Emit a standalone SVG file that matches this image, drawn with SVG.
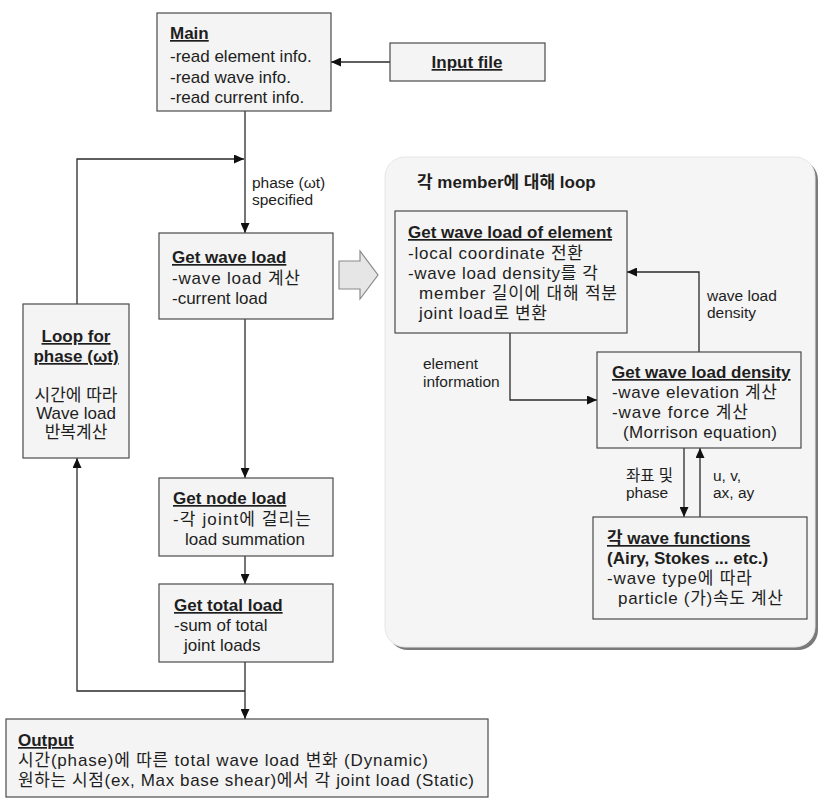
<svg xmlns="http://www.w3.org/2000/svg" width="826" height="801" viewBox="0 0 826 801">
<style>
.box{fill:#f4f4f4;stroke:#4a4a4a;stroke-width:1.2}
.t{font-family:"Liberation Sans","Noto Sans CJK KR",sans-serif;font-size:17px;fill:#1e1e1e}
.h{font-weight:bold;text-decoration:underline}
.hb{font-weight:bold}
.lbl{font-size:15.5px}
.c{fill:none;stroke:#2a2a2a;stroke-width:1.3}
.a{marker-end:url(#ah)}
</style>
<defs>
<marker id="ah" markerUnits="userSpaceOnUse" markerWidth="10" markerHeight="9" refX="10" refY="4.5" orient="auto">
<path d="M0,0 L10,4.5 L0,9 Z" fill="#111"/>
</marker>
</defs>
<rect width="826" height="801" fill="#ffffff"/>
<g id="panel">
<rect x="388" y="160" width="430" height="490" rx="20" ry="20" fill="#7a7a7a"/>
<rect x="385" y="157" width="430" height="490" rx="20" ry="20" fill="#f5f5f5" stroke="#e6e6e6" stroke-width="1"/>
<text class="t hb" x="417" y="188">각 member에 대해 loop</text>
</g>
<g id="connectors">
<path class="c a" d="M390,62 H331"/>
<path class="c a" d="M245,111 V233"/>
<path class="c a" d="M77,304 V159 H244"/>
<path class="c a" d="M245,319 V478"/>
<path class="c a" d="M245,556 V584"/>
<path class="c a" d="M245,662 V719"/>
<path class="c a" d="M245,691 H77 V458"/>
<path class="c a" d="M510,333 V400 H597"/>
<path class="c a" d="M699,352 V272 H627"/>
<path class="c a" d="M684,448 V517"/>
<path class="c a" d="M700,517 V448"/>
<text class="t lbl" x="252" y="188">phase (ωt)</text>
<text class="t lbl" x="252" y="205">specified</text>
<text class="t lbl" x="707" y="301">wave load</text>
<text class="t lbl" x="707" y="318">density</text>
<text class="t lbl" x="423" y="369">element</text>
<text class="t lbl" x="423" y="387">information</text>
<text class="t lbl" x="626" y="481">좌표 및</text>
<text class="t lbl" x="626" y="498">phase</text>
<text class="t lbl" x="713" y="481">u, v,</text>
<text class="t lbl" x="713" y="498">ax, ay</text>
</g>
<g id="hollow-arrow">
<path d="M339,261 H360 V251 L378,275 L360,299 V289 H339 Z" fill="#e6e6e6" stroke="#8a8a8a" stroke-width="1.2"/>
</g>
<g id="main">
<rect class="box" x="157" y="13" width="174" height="98"/>
<text class="t h" x="170" y="39">Main</text>
<text class="t" x="170" y="62">-read element info.</text>
<text class="t" x="170" y="83">-read wave info.</text>
<text class="t" x="170" y="103">-read current info.</text>
</g>
<g id="input">
<rect class="box" x="390" y="43" width="155" height="38"/>
<text class="t h" x="467" y="68" text-anchor="middle">Input file</text>
</g>
<g id="loop">
<rect class="box" x="23" y="304" width="106" height="154"/>
<text class="t h" x="76" y="342" text-anchor="middle">Loop for</text>
<text class="t h" x="76" y="362" text-anchor="middle">phase (ωt)</text>
<text class="t" x="76" y="401" text-anchor="middle">시간에 따라</text>
<text class="t" x="76" y="419" text-anchor="middle">Wave load</text>
<text class="t" x="76" y="438" text-anchor="middle">반복계산</text>
</g>
<g id="wave-load">
<rect class="box" x="159" y="233" width="174" height="86"/>
<text class="t h" x="172" y="263">Get wave load</text>
<text class="t" x="172" y="284" textLength="128" lengthAdjust="spacing">-wave load 계산</text>
<text class="t" x="172" y="304">-current load</text>
</g>
<g id="node-load">
<rect class="box" x="159" y="478" width="174" height="78"/>
<text class="t h" x="173" y="504">Get node load</text>
<text class="t" x="173" y="525" textLength="138" lengthAdjust="spacing">-각 joint에 걸리는</text>
<text class="t" x="185" y="545">load summation</text>
</g>
<g id="total-load">
<rect class="box" x="159" y="584" width="174" height="78"/>
<text class="t h" x="174" y="611">Get total load</text>
<text class="t" x="174" y="631">-sum of total</text>
<text class="t" x="184" y="651">joint loads</text>
</g>
<g id="output">
<rect class="box" x="6" y="719" width="482" height="78"/>
<text class="t h" x="18" y="746">Output</text>
<text class="t" x="18" y="766" textLength="410" lengthAdjust="spacing">시간(phase)에 따른 total wave load 변화 (Dynamic)</text>
<text class="t" x="18" y="786" textLength="456" lengthAdjust="spacing">원하는 시점(ex, Max base shear)에서 각 joint load (Static)</text>
</g>
<g id="element">
<rect class="box" x="395" y="211" width="232" height="122"/>
<text class="t h" x="408" y="238">Get wave load of element</text>
<text class="t" x="408" y="259" textLength="175" lengthAdjust="spacing">-local coordinate 전환</text>
<text class="t" x="408" y="279" textLength="190" lengthAdjust="spacing">-wave load density를 각</text>
<text class="t" x="419" y="299" textLength="198" lengthAdjust="spacing">member 길이에 대해 적분</text>
<text class="t" x="419" y="319" textLength="128" lengthAdjust="spacing">joint load로 변환</text>
</g>
<g id="density">
<rect class="box" x="597" y="352" width="204" height="96"/>
<text class="t h" x="612" y="378">Get wave load density</text>
<text class="t" x="612" y="398" textLength="165" lengthAdjust="spacing">-wave elevation 계산</text>
<text class="t" x="612" y="418" textLength="136" lengthAdjust="spacing">-wave force 계산</text>
<text class="t" x="623" y="438" textLength="154" lengthAdjust="spacing">(Morrison equation)</text>
</g>
<g id="wave-functions">
<rect class="box" x="593" y="517" width="214" height="102"/>
<text class="t h" x="607" y="544">각 wave functions</text>
<text class="t hb" x="607" y="564">(Airy, Stokes ... etc.)</text>
<text class="t" x="607" y="584" textLength="145" lengthAdjust="spacing">-wave type에 따라</text>
<text class="t" x="618" y="604" textLength="165" lengthAdjust="spacing">particle (가)속도 계산</text>
</g>
</svg>
